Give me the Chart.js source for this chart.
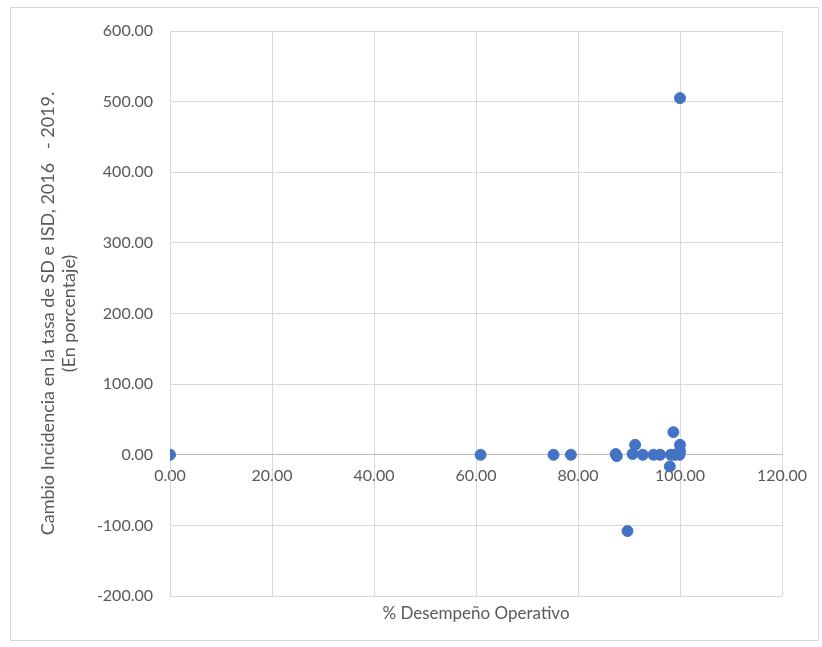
<!DOCTYPE html>
<html>
<head>
<meta charset="utf-8">
<script src="https://cdn.jsdelivr.net/npm/chart.js@4/dist/chart.umd.min.js"></script>
<style>
  body { margin: 0; background: #fff; }
  #frame { position: absolute; left: 10px; top: 7px; width: 807px; height: 632px; border: 1px solid #d9d9d9; }
  #wrap { position: absolute; left: 0; top: 0; width: 822px; height: 647px; }
</style>
</head>
<body>
<div id="frame"></div>
<div id="wrap"><canvas id="chart"></canvas></div>
<script>
// % Desempeño Operativo
const desempeno = [0, 60.9, 75.2, 78.6, 87.4, 87.6, 90.7, 91.2, 92.7, 94.8, 96.1, 98.0, 98.2, 98.7, 99.0, 99.9, 100, 100, 100, 89.7]
// Cambio incidencia (%)
const cambio = [0, 0, 0, 0, 1, -2, 1, 14, 0, 0, 0, -16.5, 0, 32, 0, 0, 5, 14, 505, -108]

const xTicks = [0, 20, 40, 60, 80, 100, 120]
const yTicks = [-200, -100, 0, 100, 200, 300, 400, 500, 600]

const gray = "#595959"
const tickFont = { family: "Lato", size: 16 }

const points = desempeno.map((x, i) => ({ x: x, y: cambio[i] }))

// x axis title drawn under the plot area
const xTitle = {
  id: "xTitle",
  afterDraw(chart) {
    const { ctx, chartArea } = chart
    ctx.save()
    ctx.fillStyle = gray
    ctx.font = "17px Lato"
    ctx.textAlign = "center"
    ctx.textBaseline = "middle"
    ctx.fillText("% Desempeño Operativo", (chartArea.left + chartArea.right) / 2, chartArea.bottom + 18)
    ctx.restore()
  },
}

new Chart(document.getElementById("chart"), {
  type: "scatter",
  data: {
    datasets: [
      {
        data: points,
        backgroundColor: "#4472C4",
        borderColor: "#4472C4",
        pointRadius: 5.5,
        pointHoverRadius: 5.5,
      },
    ],
  },
  options: {
    responsive: true,
    maintainAspectRatio: false,
    animation: false,
    layout: { padding: { top: 31, right: 40, bottom: 51, left: 37 } },
    plugins: {
      legend: { display: false },
      tooltip: { enabled: false },
    },
    scales: {
      x: {
        type: "linear",
        position: { y: 0 },
        min: 0,
        max: 120,
        afterBuildTicks: (axis) => { axis.ticks = xTicks.map((v) => ({ value: v })) },
        grid: { color: "#d9d9d9", drawTicks: false },
        border: { color: "#bfbfbf" },
        ticks: {
          color: gray,
          font: tickFont,
          padding: 11,
          maxRotation: 0,
          callback: (v) => v.toFixed(2),
        },
      },
      y: {
        type: "linear",
        min: -200,
        max: 600,
        afterBuildTicks: (axis) => { axis.ticks = yTicks.map((v) => ({ value: v })) },
        afterFit: (axis) => { axis.width = 133 },
        grid: { color: "#d9d9d9", drawTicks: false },
        border: { color: "#d9d9d9" },
        ticks: {
          color: gray,
          font: tickFont,
          padding: 17,
          callback: (v) => v.toFixed(2),
        },
        title: {
          display: true,
          text: ["Cambio Incidencia en la tasa de SD e ISD, 2016   - 2019.", "(En porcentaje)"],
          color: gray,
          font: { family: "Lato", size: 18 },
          lineHeight: 1.4,
          padding: { top: 0, bottom: 0 },
        },
      },
    },
  },
  plugins: [xTitle],
})
</script>
</body>
</html>
